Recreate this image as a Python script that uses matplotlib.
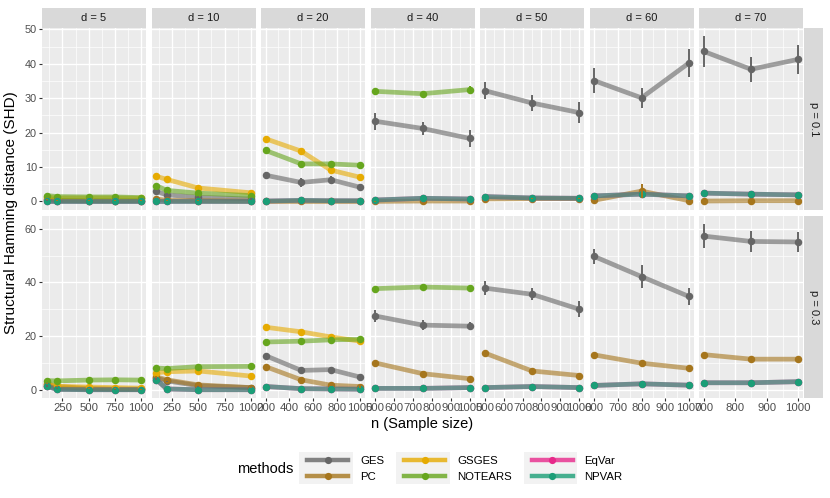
import numpy as np
import matplotlib.pyplot as plt
from matplotlib.lines import Line2D
from matplotlib.patches import Rectangle
from matplotlib.ticker import FixedLocator

plt.rcParams['font.family'] = ['Liberation Sans', 'DejaVu Sans']

# facets
d_list = [5, 10, 20, 40, 50, 60, 70]
p_list = ['0.1', '0.3']
n_by_d = [[100, 200, 500, 750, 1000], [100, 200, 500, 1000], [200, 500, 750, 1000],
          [500, 750, 1000], [500, 750, 1000], [600, 800, 1000], [700, 850, 1000]]
xticks_by_d = [[250, 500, 750, 1000], [250, 500, 750, 1000], [200, 400, 600, 800, 1000],
               [500, 600, 700, 800, 900, 1000], [500, 600, 700, 800, 900, 1000],
               [600, 700, 800, 900, 1000], [700, 800, 900, 1000]]

methods = ['GES', 'PC', 'GSGES', 'NOTEARS', 'EqVar', 'NPVAR']
colors = ['#666666', '#A6761D', '#E6AB02', '#66A61E', '#E7298A', '#1B9E77']

# p = 0.1
ges_01 = [[0.4, 0.2, 0.1, 0.1, 0.1], [2.9, 1.9, 1.2, 0.7], [7.6, 5.5, 6.3, 4.1],
          [23.3, 21.2, 18.3], [32.2, 28.6, 25.8], [35.1, 30.1, 40.2], [43.6, 38.4, 41.3]]
ges_err_01 = [[0.2, 0.2, 0.1, 0.1, 0.1], [0.5, 0.4, 0.3, 0.3], [1.0, 1.2, 1.1, 0.8],
              [2.5, 2.0, 2.4], [2.5, 2.3, 3.0], [3.7, 2.9, 4.1], [4.4, 3.7, 4.3]]
pc_01 = [[0.6, 0.3, 0.2, 0.2, 0.2], [0.7, 0.3, 0.2, 0.1], [0.1, 0.1, 0.1, 0.1],
         [0.0, 0.1, 0.1], [0.7, 0.8, 0.8], [0.3, 3.0, 0.2], [0.1, 0.2, 0.2]]
pc_err_01 = [[0.1] * 5, [0.1] * 4, [0.1] * 4, [0.1] * 3, [0.1] * 3, [0.2, 2.0, 0.1], [0.1] * 3]
gsges_01 = [[1.2, 1.0, 1.0, 1.0, 0.9], [7.3, 6.4, 3.9, 2.5], [18.2, 14.6, 9.1, 7.0],
            None, None, None, None]
notears_01 = [[1.7, 1.4, 1.3, 1.3, 1.1], [4.6, 3.2, 2.4, 1.7], [14.8, 10.9, 10.9, 10.5],
              [32.0, 31.3, 32.5], None, None, None]
notears_err_01 = [[0.2] * 5, [0.3] * 4, [0.5] * 4, [1.0, 0.9, 1.0], None, None, None]
npvar_01 = [[0, 0, 0, 0, 0], [0, 0, 0, 0], [0.1, 0.3, 0.2, 0.2],
            [0.4, 0.9, 0.7], [1.4, 1.0, 0.9], [1.6, 2.1, 1.6], [2.4, 2.1, 1.9]]
eqvar_01 = npvar_01

# p = 0.3
ges_03 = [[1.5, 0.5, 0.2, 0.1, 0.1], [4.3, 3.3, 1.5, 0.8], [12.7, 7.2, 7.5, 4.7],
          [27.5, 24.1, 23.7], [37.9, 35.6, 30.0], [49.7, 42.2, 34.8], [57.3, 55.3, 55.1]]
ges_err_03 = [[0.3, 0.2, 0.1, 0.1, 0.1], [0.5, 0.5, 0.3, 0.3], [0.8, 0.8, 0.8, 0.7],
              [2.1, 1.9, 1.5], [2.5, 2.3, 3.0], [2.7, 4.3, 3.3], [4.4, 3.8, 3.8]]
pc_03 = [[2.2, 1.2, 0.5, 0.3, 0.2], [4.8, 3.7, 1.8, 0.8], [8.6, 3.7, 1.7, 1.2],
         [10.0, 6.0, 4.1], [13.7, 7.0, 5.3], [13.0, 9.9, 8.0], [13.1, 11.4, 11.4]]
pc_err_03 = [[0.2] * 5, [0.3] * 4, [0.4] * 4, [0.4] * 3, [0.4] * 3, [0.4] * 3, [0.4] * 3]
gsges_03 = [[2.0, 1.3, 1.0, 0.8, 0.6], [6.3, 6.7, 7.0, 5.1], [23.3, 21.6, 19.7, 18.1],
            None, None, None, None]
notears_03 = [[3.4, 3.3, 3.6, 3.7, 3.6], [8.1, 7.9, 8.6, 8.7], [17.8, 18.1, 18.6, 18.8],
              [37.7, 38.3, 37.9], None, None, None]
notears_err_03 = [[0.2] * 5, [0.3] * 4, [0.4] * 4, [0.4] * 3, None, None, None]
npvar_03 = [[1.3, 0.1, 0, 0, 0], [3.8, 0.3, 0, 0], [1.2, 0.4, 0.3, 0.2],
            [0.5, 0.5, 0.8], [0.8, 1.2, 0.8], [1.6, 2.2, 1.7], [2.6, 2.6, 3.0]]
eqvar_03 = npvar_03

vals = [[ges_01, pc_01, gsges_01, notears_01, eqvar_01, npvar_01],
        [ges_03, pc_03, gsges_03, notears_03, eqvar_03, npvar_03]]
errs = [[ges_err_01, pc_err_01, None, notears_err_01, None, None],
        [ges_err_03, pc_err_03, None, notears_err_03, None, None]]
yticks_by_p = [[0, 10, 20, 30, 40, 50], [0, 20, 40, 60]]
yminor_by_p = [[5, 15, 25, 35, 45], [10, 30, 50]]

W, H = 830, 498
fig = plt.figure(figsize=(W / 100, H / 100), dpi=100)

def px_axes(x0, y0, w, h):
    return fig.add_axes([x0 / W, 1 - (y0 + h) / H, w / W, h / H])

pw, gap = 104, 5.5
rows_top = [28, 216]
ph = 182

for r in range(2):
    # y limits like ggplot (5% expansion of data range)
    lo, hi = 0.0, 0.0
    for m in range(6):
        for c in range(7):
            y = vals[r][m][c]
            if y is None:
                continue
            e = errs[r][m][c] if errs[r][m] is not None and errs[r][m][c] is not None else [0] * len(y)
            lo = min(lo, min(np.array(y) - np.array(e)))
            hi = max(hi, max(np.array(y) + np.array(e)))
    ylim = (lo - 0.05 * (hi - lo), hi + 0.05 * (hi - lo))

    for c in range(7):
        left = 42 + c * (pw + gap)
        ax = px_axes(left, rows_top[r], pw, ph)
        ax.set_facecolor('#EBEBEB')
        for s in ax.spines.values():
            s.set_visible(False)
        n = np.array(n_by_d[c])
        xr = n.max() - n.min()
        ax.set_xlim(n.min() - 0.05 * xr, n.max() + 0.05 * xr)
        ax.set_ylim(*ylim)
        xt = xticks_by_d[c]
        ax.set_xticks(xt)
        step = xt[1] - xt[0]
        xminor = [xt[0] - step / 2] + [t + step / 2 for t in xt]
        ax.xaxis.set_minor_locator(FixedLocator(xminor))
        ax.set_yticks(yticks_by_p[r])
        ax.yaxis.set_minor_locator(FixedLocator(yminor_by_p[r]))
        ax.set_axisbelow(True)
        ax.grid(which='major', color='white', lw=1.0)
        ax.grid(which='minor', color='white', lw=0.5)
        ax.tick_params(which='minor', length=0)
        ax.tick_params(which='major', length=2.2, width=0.8, color='#333333',
                       labelcolor='#4D4D4D', pad=1.5)
        ax.tick_params(axis='x', labelsize=8.2)
        ax.tick_params(axis='y', labelsize=7.8)
        if r == 0:
            ax.tick_params(bottom=False, labelbottom=False)
        if c > 0:
            ax.tick_params(left=False, labelleft=False)

        for m in range(6):
            y = vals[r][m][c]
            if y is None:
                continue
            ax.plot(n, y, color=colors[m], lw=3.4, alpha=0.6, solid_capstyle='butt', zorder=2)
        for m in range(6):
            y = vals[r][m][c]
            if y is None:
                continue
            ax.plot(n, y, 'o', color=colors[m], ms=5.4, mew=0, zorder=3)
        for m in range(6):
            y = vals[r][m][c]
            if y is None or errs[r][m] is None or errs[r][m][c] is None:
                continue
            e = np.array(errs[r][m][c])
            ax.vlines(n, np.array(y) - e, np.array(y) + e, color=colors[m], lw=1.4, zorder=4)

        if r == 0:
            sax = px_axes(left, 8.5, pw, 19.5)
            sax.set_facecolor('#D9D9D9')
            sax.set_xticks([]); sax.set_yticks([])
            for s in sax.spines.values():
                s.set_visible(False)
            sax.text(0.5, 0.5, 'd = %d' % d_list[c], ha='center', va='center',
                     fontsize=8, color='#1A1A1A', transform=sax.transAxes)

    rax = px_axes(804, rows_top[r], 19, ph)
    rax.set_facecolor('#D9D9D9')
    rax.set_xticks([]); rax.set_yticks([])
    for s in rax.spines.values():
        s.set_visible(False)
    rax.text(0.5, 0.5, 'p = ' + p_list[r], ha='center', va='center', rotation=-90,
             fontsize=8, color='#1A1A1A', transform=rax.transAxes)

fig.text(422 / W, 1 - 424 / H, 'n (Sample size)', ha='center', va='center', fontsize=10.5)
fig.text(11 / W, 1 - 213 / H, 'Structural Hamming distance (SHD)', ha='center', va='center',
         rotation=90, fontsize=11)

# legend
handles = []
for m in range(6):
    rgba = plt.matplotlib.colors.to_rgba(colors[m], 0.8)
    handles.append(Line2D([], [], color=rgba, lw=3.2, marker='o', ms=5.2, mew=0,
                          markerfacecolor=colors[m]))
leg = fig.legend(handles, methods, ncol=3, loc='center left',
                 bbox_to_anchor=(307 / W, 1 - 469 / H), frameon=False, fontsize=8.2,
                 handlelength=3.6, handletextpad=1.05, columnspacing=1.75,
                 labelspacing=0.5, borderpad=0, borderaxespad=0)
fig.text(237 / W, 1 - 469 / H, 'methods', ha='left', va='center', fontsize=10.5)

fig.canvas.draw()
renderer = fig.canvas.get_renderer()
inv = fig.transFigure.inverted()
for j in range(3):
    b1 = leg.legend_handles[2 * j].get_window_extent(renderer)
    b2 = leg.legend_handles[2 * j + 1].get_window_extent(renderer)
    cy1 = (b1.y0 + b1.y1) / 2
    cy2 = (b2.y0 + b2.y1) / 2
    x0, x1 = b1.x0 - 4, b1.x1 + 1
    y0, y1 = min(cy1, cy2) - 8.5, max(cy1, cy2) + 8.5
    (fx0, fy0), (fx1, fy1) = inv.transform([(x0, y0), (x1, y1)])
    fig.add_artist(Rectangle((fx0, fy0), fx1 - fx0, fy1 - fy0, transform=fig.transFigure,
                             facecolor='#F2F2F2', edgecolor='none', zorder=1))

fig.savefig('out.png', dpi=100)
